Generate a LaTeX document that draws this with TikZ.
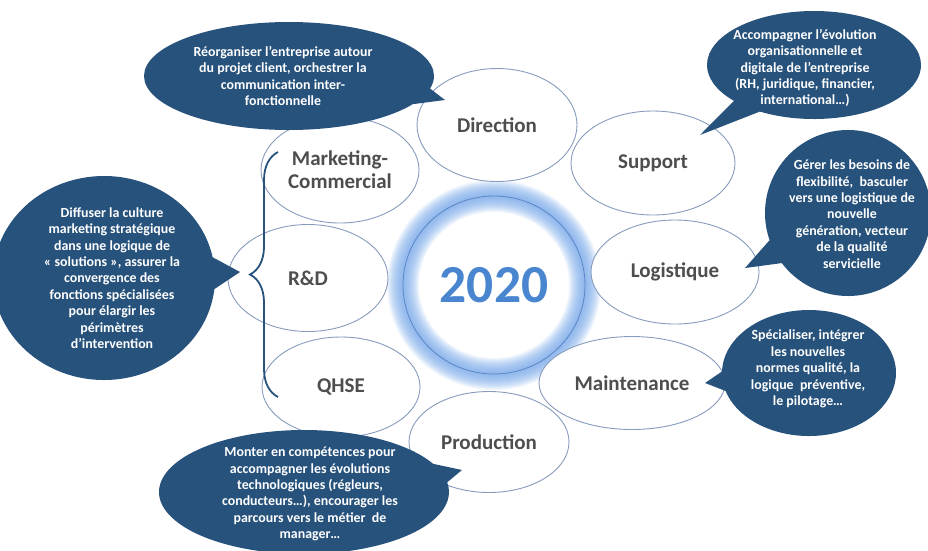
\documentclass[tikz,border=0pt]{standalone}
\usepackage{fontspec}
\setmainfont{Carlito}
\usetikzlibrary{shapes.geometric}
\usetikzlibrary{shapes.callouts}
\usetikzlibrary{decorations.pathreplacing}
\definecolor{bubbleblue}{RGB}{39,82,124}
\definecolor{deptline}{RGB}{135,155,188}
\definecolor{labelgray}{RGB}{78,78,78}
\definecolor{yearblue}{RGB}{74,134,208}
\definecolor{glowblue}{RGB}{115,165,232}
\definecolor{coreline}{RGB}{95,135,200}
\tikzset{
    dept/.style={
        ellipse,
        draw=deptline,
        line width=0.9pt,
        fill=white,
        inner sep=0pt,
        text=labelgray,
        font=\fontsize{21}{23}\selectfont\bfseries,
        align=center
    },
    bubble/.style={
        ellipse callout,
        fill=bubbleblue,
        inner sep=0pt,
        callout pointer arc=18
    },
    bubbletext/.style={
        text=white,
        inner sep=0pt,
        font=\fontsize{13.9}{16.4}\selectfont\bfseries,
        align=center
    },
    curly/.style={
        decorate,
        decoration={brace, amplitude=28pt},
        draw=bubbleblue,
        line width=1.8pt
    }
}

\begin{document}
\begin{tikzpicture}[x=1pt, y=-1pt]
                \useasboundingbox (0,0) rectangle (928,550);

                % glow round the year
                \coordinate (mid) at (494,285);
                \foreach \w in {2,4,...,32}
                    \draw[glowblue, line width=\w pt, opacity=0.09] (mid) circle[x radius=91, y radius=89];
                \node[ellipse, draw=coreline, line width=0.8pt, minimum width=182pt, minimum height=178pt,
                      text=yearblue, font=\fontsize{53.5}{56}\selectfont\bfseries] (core) at (mid) {2020};

                % departments
                \node[dept, minimum width=158pt, minimum height=106pt] (mkt) at (340,170) {Marketing-\\Commercial};
                \node[dept, minimum width=160pt, minimum height=107pt] (rd) at (308,278) {R\&D};
                \node[dept, minimum width=158pt, minimum height=100pt] (qhse) at (341,387) {QHSE};
                \node[dept, minimum width=160pt, minimum height=113pt] (dir) at (497,125) {Direction};
                \node[dept, minimum width=164pt, minimum height=104pt] (sup) at (653,163) {Support};
                \node[dept, minimum width=168pt, minimum height=104pt] (log) at (675,272) {Logistique};
                \node[dept, minimum width=186pt, minimum height=93pt] (mnt) at (632,383) {Maintenance};
                \node[dept, minimum width=160pt, minimum height=101pt] (prod) at (489,442) {Production};

                % brace
                \coordinate (btop) at (278,152);
                \coordinate (bbot) at (278,397);
                \draw[curly] (bbot) -- (btop);

                % callouts
                \node[bubble, minimum width=290pt, minimum height=108pt, callout absolute pointer={(445,100)}] (cdir) at (289,76) {};
                \node[bubbletext] (tdir) at (283,76) {R\'eorganiser l'entreprise autour\\du projet client, orchestrer la\\communication inter-\\fonctionnelle};

                \node[bubble, minimum width=214pt, minimum height=108pt, callout absolute pointer={(700,135)}] (csup) at (814,65) {};
                \node[bubbletext] (tsup) at (805,68) {Accompagner l’évolution\\organisationnelle et\\digitale de l’entreprise\\(RH, juridique, financier,\\international…)};

                \node[bubble, minimum width=222pt, minimum height=204pt, callout absolute pointer={(240,272)}] (crd) at (104,278) {};
                \node[bubbletext] (trd) at (112,278) {Diffuser la culture\\marketing stratégique\\dans une logique de\\« solutions », assurer la\\convergence des\\fonctions spécialisées\\pour élargir les\\périmètres\\d’intervention};

                \node[bubble, minimum width=166pt, minimum height=166pt, callout absolute pointer={(745,268)}] (clog) at (848,213) {};
                \node[bubbletext] (tlog) at (852,214) {Gérer les besoins de\\flexibilité,\ \ basculer\\vers une logistique de\\nouvelle\\génération, vecteur\\de la qualité\\servicielle};

                \node[bubble, minimum width=174pt, minimum height=126pt, callout absolute pointer={(705,383)}] (cmnt) at (809,373) {};
                \node[bubbletext] (tmnt) at (808,369) {Spécialiser, intégrer\\les nouvelles\\normes qualité, la\\logique\ \ préventive,\\le pilotage…};

                \node[bubble, minimum width=290pt, minimum height=124pt, callout absolute pointer={(462,470)}] (cprod) at (304,492) {};
                \node[bubbletext] (tprod) at (310,494) {Monter en compétences pour\\accompagner les évolutions\\technologiques (régleurs,\\conducteurs…), encourager les\\parcours vers le métier\ \ de\\manager…};
            \end{tikzpicture}
\end{document}
